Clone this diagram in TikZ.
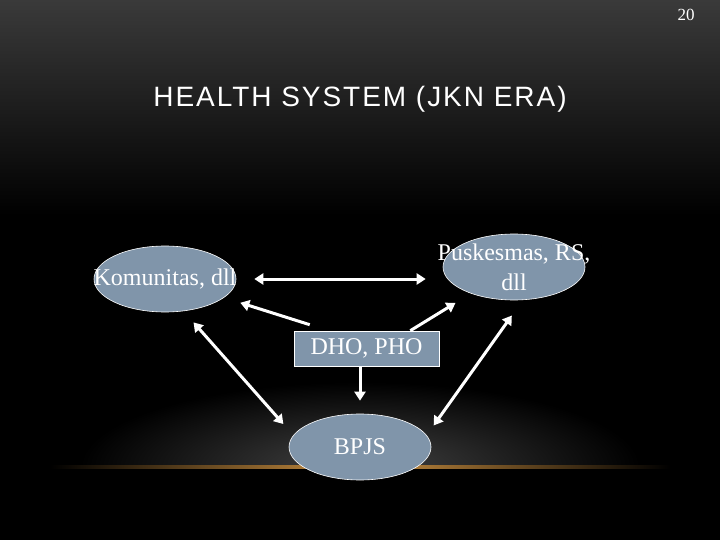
\documentclass[tikz,border=0pt]{standalone}
\usepackage{fontspec}
\setmainfont{Liberation Serif}
\newfontfamily\headfont{Liberation Sans}
\usepackage{tikz}
\usetikzlibrary{
	positioning,
	arrows.meta,
	shapes.geometric,
	calc
}
\definecolor{SlateFill}{RGB}{128,149,170}
\definecolor{TopGrey}{RGB}{58,58,58}
\definecolor{GlowLine}{RGB}{205,145,65}

\tikzset{
	entity/.style={
		ellipse,
		draw=white,
		line width=0.6pt,
		fill=SlateFill,
		minimum width=142pt,
		minimum height=66pt,
		inner sep=0pt
	},
	office/.style={
		rectangle,
		draw=white,
		line width=0.6pt,
		fill=SlateFill,
		minimum width=145pt,
		minimum height=35pt,
		inner sep=0pt
	},
	slidetext/.style={
		text=white,
		align=center,
		inner sep=0pt,
		font=\fontsize{24}{30}\selectfont
	},
	link/.style={
		white,
		line width=3pt,
		-{Triangle[length=9pt,width=11pt]}
	},
	twolink/.style={
		white,
		line width=3pt,
		{Triangle[length=9pt,width=11pt]}-{Triangle[length=9pt,width=11pt]}
	}
}

\begin{document}
\begin{tikzpicture}[x=1pt,y=-1pt]

	% slide background
	\useasboundingbox (0,0) rectangle (720,540);
	\fill[black] (0,0) rectangle (720,540);
	\shade[
	top color=TopGrey,
	bottom color=black
	]
	(0,0) rectangle (720,215);
	\begin{scope}
		\clip (0,0) rectangle (720,466);
		\shade[
		inner color=black!74,
		outer color=black
		]
		(360,467) ellipse (280 and 85);
	\end{scope}
	\shade[
	left color=black,
	right color=black,
	middle color=GlowLine
	]
	(50,465.5) rectangle (670,468.5);

	% page number and heading
	\node[text=white, font=\fontsize{17}{17}\selectfont]
	(pagenum) at (686,15) {20};
	\node[
	text=white,
	font=\headfont\fontsize{28}{28}\selectfont\addfontfeature{LetterSpace=7}
	]
	(title) at (360,99) {HEALTH SYSTEM (JKN ERA)};

	% actors
	\node[entity] (kom) at (165,279) {};
	\node[slidetext] (komtext) at (kom) {Komunitas, dll};

	\node[entity] (pus) at (514,267) {};
	\node[slidetext] (pustext) at (pus) {Puskesmas, RS,\\dll};

	\node[office] (dho) at (366.5,348.5) {};
	\node[slidetext] (dhotext) at (dho) {DHO, PHO};

	\node[entity] (bpjs) at (360,447) {};
	\node[slidetext] (bpjstext) at (bpjs) {BPJS};

	% relations
	\draw[twolink, shorten <=18pt, shorten >=17pt]
	(kom.east) -- (kom.east -| pus.west);
	\draw[link, shorten >=17pt]
	([shift={(16,-6)}]dho.north west) -- (kom);
	\draw[link, shorten >=18pt]
	([xshift=-29pt]dho.north east) -- (pus);
	\draw[twolink, shorten <=15pt, shorten >=15pt]
	(kom.-60) -- (bpjs.170);
	\draw[twolink, shorten <=19pt, shorten >=12pt]
	(pus.-75) -- (bpjs.10);
	\draw[link, shorten >=13pt]
	(dho.south -| bpjs.north) -- (bpjs.north);

\end{tikzpicture}
\end{document}
